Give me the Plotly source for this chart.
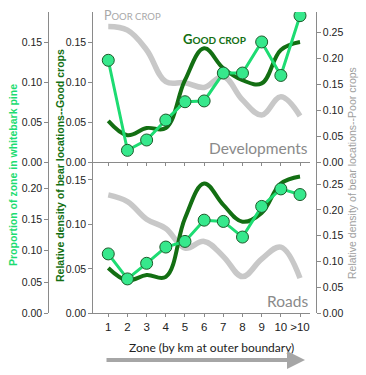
import plotly.graph_objects as go

W, H = 366, 375
zones = [1, 2, 3, 4, 5, 6, 7, 8, 9, 10, 11]
zone_labels = ["1", "2", "3", "4", "5", "6", "7", "8", "9", "10", ">10"]

# Developments panel
dev_pine = [0.128, 0.015, 0.028, 0.053, 0.076, 0.077, 0.112, 0.112, 0.151, 0.109, 0.184]
dev_good = [0.052, 0.034, 0.043, 0.043, 0.103, 0.143, 0.118, 0.103, 0.099, 0.141, 0.151]
dev_poor = [0.261, 0.254, 0.216, 0.155, 0.153, 0.144, 0.165, 0.120, 0.091, 0.126, 0.089]

# Roads panel
road_pine = [0.095, 0.055, 0.080, 0.106, 0.115, 0.149, 0.147, 0.122, 0.171, 0.199, 0.190]
road_good = [0.051, 0.037, 0.043, 0.041, 0.107, 0.146, 0.122, 0.103, 0.113, 0.146, 0.154]
road_poor = [0.229, 0.216, 0.182, 0.164, 0.126, 0.139, 0.110, 0.071, 0.105, 0.128, 0.068]

LIGHT = "#1ddc72"
LIGHT_FILL = "#36e88c"
DARK = "#136f13"
GRAY = "#c8c8c8"
AXIS = "#8a8a8a"
TICKFONT = dict(family="Liberation Sans, Arial", size=10.5, color="#222")

def px(x):
    return x / W

def py(y):
    return 1 - y / H

fig = go.Figure()

def add_panel(pine, good, poor, xa, yg, yd, yl):
    fig.add_trace(go.Scatter(x=zones, y=poor, mode="lines", xaxis=xa, yaxis=yg,
                             line=dict(color=GRAY, width=5.5, shape="spline", smoothing=1.1),
                             showlegend=False, hoverinfo="skip"))
    fig.add_trace(go.Scatter(x=zones, y=good, mode="lines", xaxis=xa, yaxis=yd,
                             line=dict(color=DARK, width=4, shape="spline", smoothing=1.1),
                             showlegend=False, hoverinfo="skip"))
    fig.add_trace(go.Scatter(x=zones, y=pine, mode="lines+markers", xaxis=xa, yaxis=yl,
                             line=dict(color=LIGHT, width=3),
                             marker=dict(size=12, color=LIGHT_FILL, line=dict(color="#1d5a2a", width=1)),
                             showlegend=False, hoverinfo="skip"))

add_panel(dev_pine, dev_good, dev_poor, "x", "y", "y2", "y3")
add_panel(road_pine, road_good, road_poor, "x2", "y4", "y5", "y6")

xdom = [px(93.3), px(310)]
xrange = [1 - 15 / 19.2, 11 + 10 / 19.2]
top_dom = [py(162.3), py(12)]
bot_dom = [py(313.3), py(162.3)]

def xaxis(anchor, labels):
    return dict(domain=xdom, range=xrange, anchor=anchor, tickmode="array",
                tickvals=zones, ticktext=zone_labels, showticklabels=labels,
                ticks="outside", ticklen=3, tickcolor=AXIS, showline=True,
                linecolor=AXIS, linewidth=1, showgrid=False, zeroline=False,
                tickfont=dict(family="Liberation Sans, Arial", size=11.5, color="#222"),
                fixedrange=True)

def yaxis(dom, rng, tickvals, **kw):
    d = dict(domain=dom, range=rng, tickmode="array", tickvals=tickvals,
             ticktext=["%.2f" % v for v in tickvals], ticks="outside", ticklen=4,
             tickcolor=AXIS, showline=True, linecolor=AXIS, linewidth=1,
             showgrid=False, zeroline=False, tickfont=TICKFONT, automargin=False,
             fixedrange=True)
    d.update(kw)
    return d

fig.update_layout(
    width=W, height=H, margin=dict(l=0, r=0, t=0, b=0),
    paper_bgcolor="white", plot_bgcolor="rgba(0,0,0,0)",
    xaxis=xaxis("y", False),
    xaxis2=xaxis("y4", True),
    # top panel
    yaxis=yaxis(top_dom, [0, 0.289], [0, 0.05, 0.10, 0.15, 0.20, 0.25],
                side="right", anchor="free", position=px(315.7)),
    yaxis2=yaxis(top_dom, [0, 0.1886], [0, 0.05, 0.10, 0.15],
                 side="left", anchor="x", overlaying="y"),
    yaxis3=yaxis(top_dom, [0, 0.1886], [0, 0.05, 0.10, 0.15],
                 side="left", anchor="free", position=px(48.3), overlaying="y"),
    # bottom panel
    yaxis4=yaxis(bot_dom, [0, 0.292], [0, 0.05, 0.10, 0.15, 0.20, 0.25],
                 side="right", anchor="free", position=px(315.7)),
    yaxis5=yaxis(bot_dom, [0, 0.1699], [0, 0.05, 0.10, 0.15],
                 side="left", anchor="x2", overlaying="y4"),
    yaxis6=yaxis(bot_dom, [0, 0.2416], [0, 0.05, 0.10, 0.15, 0.20],
                 side="left", anchor="free", position=px(48.3), overlaying="y4"),
)

def ann(text, x, y, **kw):
    d = dict(text=text, x=px(x), y=py(y), xref="paper", yref="paper", showarrow=False,
             xanchor="center", yanchor="middle")
    d.update(kw)
    fig.add_annotation(**d)

ann("<b>Proportion of zone in whitebark pine</b>", 13, 175, textangle=-90,
    font=dict(family="Liberation Sans, Arial", size=10.5, color=LIGHT))
ann("<b>Relative density of bear locations--Good crops</b>", 60, 165, textangle=-90,
    font=dict(family="Liberation Sans, Arial", size=10.5, color=DARK))
ann("Relative density of bear locations--Poor crops", 352, 173, textangle=-90,
    font=dict(family="Liberation Sans, Arial", size=10.5, color="#a0a0a0"))

ann("Developments", 310, 148, xanchor="right",
    font=dict(family="Lato", size=15.5, color="#8a8a8a"))
ann("Roads", 310, 301, xanchor="right",
    font=dict(family="Lato", size=15.5, color="#8a8a8a"))

ann("P<span style='font-size:9.5px'>OOR CROP</span>", 102, 16, xanchor="left",
    font=dict(family="Lato", size=12.5, color="#a8a8a8"))
ann("<b>G<span style='font-size:10px'>OOD CROP</span></b>", 181, 39, xanchor="left",
    font=dict(family="Lato", size=13, color=DARK))

ann("Zone (by km at outer boundary)", 211, 347,
    font=dict(family="Lato", size=12, color="#222"))

fig.add_annotation(x=px(305), y=py(360), xref="paper", yref="paper", text="",
                   showarrow=True, ax=-200, ay=0, arrowhead=2, arrowsize=0.9,
                   arrowwidth=4, arrowcolor="#a6a6a6")

fig.write_html("out.html", config={"displayModeBar": False},
               post_script="document.body.style.margin='0';document.body.style.overflow='hidden';")
